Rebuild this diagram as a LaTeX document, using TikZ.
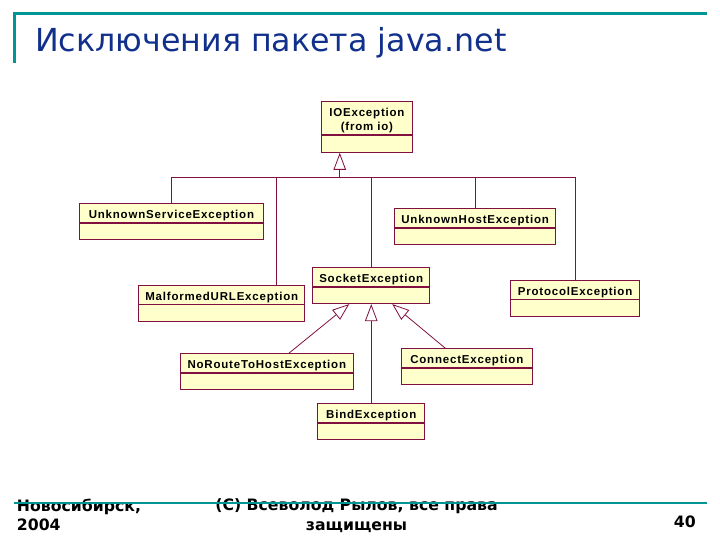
\documentclass[tikz,border=0pt]{standalone}
\usepackage{fontspec}
\setmainfont{DejaVu Sans}
\newfontfamily\clsfont[LetterSpace=7]{Liberation Sans}
\usetikzlibrary{arrows.meta}
\definecolor{umlline}{RGB}{128,16,64}
\definecolor{umlfill}{RGB}{255,255,204}
\definecolor{slideteal}{RGB}{0,150,150}
\definecolor{slideblue}{RGB}{16,48,140}
\tikzset{
    clsbase/.style={draw=umlline, fill=umlfill, line width=0.9pt, inner sep=0pt, anchor=north west, font=\clsfont\bfseries\fontsize{11.5}{14}\selectfont},
    cls/.style={clsbase, minimum height=18.5pt, text height=11.8pt, text depth=0pt},
    clsbot/.style={draw=umlline, fill=umlfill, line width=0.9pt, inner sep=0pt, minimum height=16.5pt, anchor=north},
    umlconn/.style={draw=umlline, line width=0.8pt},
    inherit/.style={umlconn, -{Triangle[open, length=17pt, width=12.5pt]}},
    foot/.style={inner sep=0pt, font=\bfseries\fontsize{15.7}{19.5}\selectfont}
}

\begin{document}
\begin{tikzpicture}[x=1pt, y=-1pt]
    \useasboundingbox (0,0) rectangle (720,540);
    \node[anchor=base west, inner sep=0pt, text=slideblue, font=\fontsize{31.7}{38}\selectfont] (title) at (35,51.7) {Исключения пакета java.net};
    \draw[slideteal, line width=3pt] (14,63) -- (14,14) -- (707,14);

    \node[clsbase, align=center, minimum width=91.6pt, minimum height=33.3pt] (ioexc) at (320.7,100.7) {\rule{0pt}{13pt}IOException\\(from io)};
    \node[clsbot, minimum width=91.6pt, minimum height=17pt] (ioexcb) at (ioexc.south) {};
    \node[cls, minimum width=183.4pt] (unkserv) at (79.3,203.3) {UnknownServiceException};
    \node[clsbot, minimum width=183.4pt] (unkservb) at (unkserv.south) {};
    \node[cls, minimum width=160.7pt] (unkhost) at (394.3,208.3) {UnknownHostException};
    \node[clsbot, minimum width=160.7pt] (unkhostb) at (unkhost.south) {};
    \node[cls, minimum width=166pt] (malformed) at (138.3,285) {MalformedURLException};
    \node[clsbot, minimum width=166pt] (malformedb) at (malformed.south) {};
    \node[cls, minimum width=117pt] (socket) at (312.3,267.3) {SocketException};
    \node[clsbot, minimum width=117pt] (socketb) at (socket.south) {};
    \node[cls, minimum width=129.3pt] (protocol) at (510,280) {ProtocolException};
    \node[clsbot, minimum width=129.3pt] (protocolb) at (protocol.south) {};
    \node[cls, minimum width=172.7pt] (noroute) at (180,353.3) {NoRouteToHostException};
    \node[clsbot, minimum width=172.7pt] (norouteb) at (noroute.south) {};
    \node[cls, minimum width=130.7pt] (connect) at (401,348.3) {ConnectException};
    \node[clsbot, minimum width=130.7pt] (connectb) at (connect.south) {};
    \node[cls, minimum width=107pt] (bind) at (317.3,403.3) {BindException};
    \node[clsbot, minimum width=107pt] (bindb) at (bind.south) {};

    \draw[umlconn] (unkserv.north) -- ++(0,-26) coordinate (bus) -| (protocol.north);
    \path ([xshift=54.4pt]malformed.north) coordinate (malj);
    \draw[umlconn] (malj) -- (malj |- bus);
    \draw[umlconn] (socket.north) -- (socket.north |- bus);
    \draw[umlconn] (unkhost.north) -- (unkhost.north |- bus);
    \path ([xshift=-27.2pt]ioexcb.south) coordinate (iotip);
    \draw[inherit] (iotip |- bus) -- (iotip);
    \draw[inherit] ([xshift=22pt]noroute.north) -- ([xshift=-22pt]socketb.south);
    \draw[inherit] (bind.north) -- (socketb.south);
    \draw[inherit] ([xshift=-21.4pt]connect.north) -- ([xshift=21pt]socketb.south);

    \node[foot, anchor=north west, align=left] (city) at (16.7,498.5) {Новосибирск,\\2004};
    \node[foot, anchor=north, align=center] (rights) at (356.5,498.5) {(C) Всеволод Рылов, все права\\защищены};
    \node[foot, anchor=base east] (page) at (696,527.5) {40};
    \draw[slideteal, line width=2.5pt] (14,503) -- (707,503);

\end{tikzpicture}
\end{document}
